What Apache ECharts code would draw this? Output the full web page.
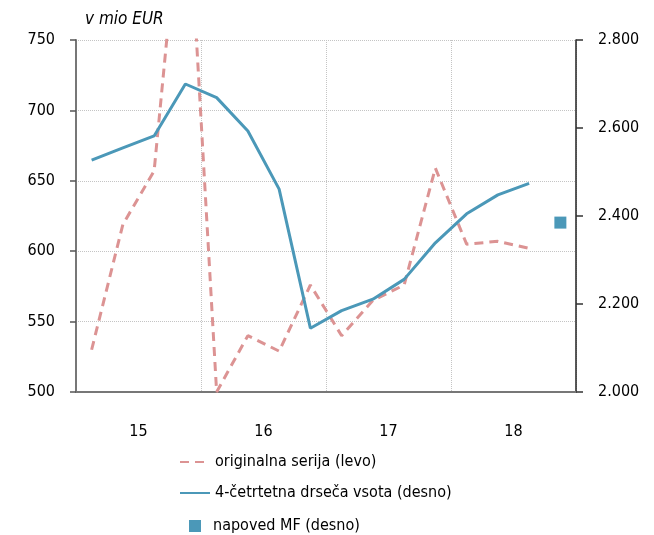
<!DOCTYPE html>
<html>
<head>
<meta charset="utf-8">
<script src="https://cdn.jsdelivr.net/npm/echarts@6/dist/echarts.min.js"></script>
<style>
  html, body { margin: 0; padding: 0; background: #fff; }
  #chart { width: 654px; height: 535px; }
</style>
</head>
<body>
<div id="chart"></div>
<script>
// Quarterly periods, 2015 Q1 – 2018 Q4
const quarters = ['15Q1','15Q2','15Q3','15Q4','16Q1','16Q2','16Q3','16Q4',
                  '17Q1','17Q2','17Q3','17Q4','18Q1','18Q2','18Q3','18Q4'];
const yearLabels = ['15', '16', '17', '18'];

// Original quarterly series (left axis, mio EUR)
const originalSeries = [530, 619, 657, 888, 500, 540, 529, 576,
                        540, 565, 576, 659, 605, 607, 602, null];

// 4-quarter moving sum (right axis, mio EUR)
const movingSum = [2527, 2555, 2582, 2700, 2669, 2593, 2461, 2145,
                   2185, 2211, 2256, 2339, 2405, 2448, 2474, null];

// MF forecast (right axis)
const forecast = [null, null, null, null, null, null, null, null,
                  null, null, null, null, null, null, null, 2385];

const leftTicks = { min: 500, max: 750, step: 50 };
const rightTicks = { min: 2000, max: 2800, step: 200 };

const FONT = "'DejaVu Sans Condensed', 'Liberation Sans Narrow', 'Roboto Condensed', 'DejaVu Sans', sans-serif";
const RED = '#dc9393';
const BLUE = '#4b98b8';
const FS = 16;

const NAME_ORIG = 'originalna serija (levo)';
const NAME_SUM = '4-četrtetna drseča vsota (desno)';
const NAME_MF = 'napoved MF (desno)';

// one legend block per row, stacked below the plot
function legendRow(name, top, extra) {
  return Object.assign({
    orient: 'vertical',
    left: 174,
    top: top,
    itemWidth: 30,
    itemHeight: 14,
    textStyle: { fontFamily: FONT, fontSize: FS, color: '#000' },
    data: [name]
  }, extra || {});
}

const chart = echarts.init(document.getElementById('chart'));

chart.setOption({
  animation: false,
  textStyle: { fontFamily: FONT, color: '#000' },
  title: {
    text: 'v mio EUR',
    left: 80,
    top: 6,
    textStyle: { fontFamily: FONT, fontStyle: 'italic', fontWeight: 'normal', fontSize: 17, color: '#000' }
  },
  grid: { left: 76, right: 78, top: 40, bottom: 143 },
  legend: [
    legendRow(NAME_ORIG, 449, { itemStyle: { opacity: 0 } }),
    legendRow(NAME_SUM, 480, { itemStyle: { opacity: 0 } }),
    legendRow(NAME_MF, 513, {
      left: 184,
      itemWidth: 12,
      itemHeight: 12,
      data: [{ name: NAME_MF, icon: 'rect' }],
      itemStyle: { opacity: 1 },
      textStyle: { fontFamily: FONT, fontSize: FS, color: '#000', padding: [0, 0, 0, 7] }
    })
  ],
  xAxis: [
    {
      type: 'category',
      data: quarters,
      boundaryGap: true,
      axisLine: { lineStyle: { color: '#777', width: 2 } },
      axisTick: { interval: 3, length: 7, lineStyle: { color: '#555', width: 1.5 } },
      axisLabel: { show: false },
      splitLine: { show: true, interval: 3, lineStyle: { color: '#c4c4c4', type: 'dotted', width: 1 } }
    },
    {
      type: 'category',
      data: yearLabels,
      position: 'bottom',
      boundaryGap: true,
      axisLine: { show: false },
      axisTick: { show: false },
      axisLabel: { margin: 32, fontSize: FS, fontFamily: FONT, color: '#000' },
      splitLine: { show: false }
    }
  ],
  yAxis: [
    {
      type: 'value',
      position: 'left',
      min: leftTicks.min,
      max: leftTicks.max,
      interval: leftTicks.step,
      axisLine: { show: true, lineStyle: { color: '#777', width: 2 } },
      axisTick: { show: true, length: 6, lineStyle: { color: '#555', width: 1.5 } },
      axisLabel: { margin: 21, fontSize: FS, fontFamily: FONT, color: '#000' },
      splitLine: { show: true, lineStyle: { color: '#c4c4c4', type: 'dotted', width: 1 } }
    },
    {
      type: 'value',
      position: 'right',
      min: rightTicks.min,
      max: rightTicks.max,
      interval: rightTicks.step,
      axisLine: { show: true, lineStyle: { color: '#222', width: 1.5 } },
      axisTick: { show: true, length: 7, lineStyle: { color: '#333', width: 1.5 } },
      axisLabel: {
        margin: 22, fontSize: FS, fontFamily: FONT, color: '#000',
        formatter: v => String(v).replace(/\B(?=(\d{3})+(?!\d))/g, '.')
      },
      splitLine: { show: false }
    }
  ],
  series: [
    {
      name: NAME_ORIG,
      type: 'line',
      xAxisIndex: 0,
      yAxisIndex: 0,
      data: originalSeries,
      showSymbol: false,
      symbol: 'none',
      clip: true,
      lineStyle: { color: RED, width: 3, type: [9, 6] },
      itemStyle: { color: RED },
      z: 2
    },
    {
      name: NAME_SUM,
      type: 'line',
      xAxisIndex: 0,
      yAxisIndex: 1,
      data: movingSum,
      showSymbol: false,
      symbol: 'none',
      lineStyle: { color: BLUE, width: 3 },
      itemStyle: { color: BLUE },
      z: 3
    },
    {
      name: NAME_MF,
      type: 'scatter',
      xAxisIndex: 0,
      yAxisIndex: 1,
      data: forecast,
      symbol: 'rect',
      symbolSize: 12,
      itemStyle: { color: BLUE, opacity: 1 },
      z: 4
    }
  ]
});
</script>
</body>
</html>
